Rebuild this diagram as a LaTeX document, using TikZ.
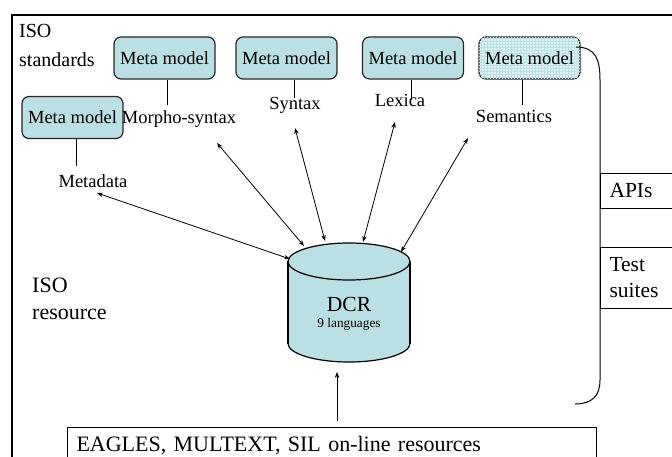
\documentclass[tikz,border=0pt]{standalone}
\usepackage{fontspec}
\setmainfont{Liberation Serif}
\usetikzlibrary{arrows.meta,patterns,calc}
\definecolor{teal1}{RGB}{187,224,227}
\definecolor{teal2}{RGB}{220,241,243}
\definecolor{grid1}{RGB}{190,225,229}
\newcommand{\fsz}[2]{\fontsize{#1bp}{#2bp}\selectfont}
\begin{document}
\begin{tikzpicture}[x=1bp,y=-1bp,
  meta/.style={draw=black!85, line width=1.2bp, rounded corners=7bp, fill=teal1,
    minimum width=101bp, minimum height=42bp, inner sep=0pt, font=\fsz{18.5}{22}},
  lbl/.style={inner sep=0pt, font=\fsz{18.5}{22}},
  conn/.style={line width=0.9bp},
  dbl/.style={line width=0.8bp, {Stealth[length=6bp,width=4.5bp]}-{Stealth[length=6bp,width=4.5bp]}},
  sidebox/.style={draw, line width=1bp, anchor=north west, text width=70bp, inner xsep=9bp,
    inner ysep=0pt, align=left, font=\fsz{21.5}{26}},
  plain/.style={anchor=base west, inner sep=0pt}
]
\useasboundingbox (0,0) rectangle (672,457);
\clip (0,0) rectangle (672,457);

% outer frame
\draw[line width=2bp] (690,15) -- (12,15) -- (12,470);

% left texts
\node[plain, font=\fsz{20}{24}] (iso1) at (19,38) {ISO};
\node[plain, font=\fsz{20}{24}] (std) at (19,67) {standards};
\node[plain, font=\fsz{22}{26}] (iso2) at (32,293) {ISO};
\node[plain, font=\fsz{22}{26}] (res) at (32,320) {resource};

% meta model boxes
\node[meta] (mm1) at (164.5,58) {Meta model};
\node[meta] (mm2) at (286.5,58) {Meta model};
\node[meta] (mm3) at (413,58) {Meta model};
\node[meta, fill=teal2, postaction={pattern=grid, pattern color=grid1}] (mm4) at (529.5,58) {Meta model};
\node[meta] (mm5) at (72.5,117.5) {Meta model};

% labels
\node[lbl] (ms) at (179,119) {Morpho-syntax};
\node[lbl] (syn) at (295,105) {Syntax};
\node[lbl] (lex) at (400,100) {Lexica};
\node[lbl] (sem) at (514,116) {Semantics};
\node[lbl] (md) at (93,181) {Metadata};

\draw[conn] ([xshift=2.5bp]mm1.south) -- ++(0,25.5);
\draw[conn] ([xshift=7.5bp]mm2.south) -- ++(0,18);
\draw[conn] ([xshift=-2bp]mm3.south) -- ++(0,20);
\draw[conn] ([xshift=-7.5bp]mm4.south) -- ++(0,25);
\draw[conn] ([xshift=3.5bp]mm5.south) -- ++(0,27);

% cylinder DCR
\fill[teal1] (288,261.5) rectangle (410,343.5);
\fill[teal1] (349,343.5) ellipse [x radius=61, y radius=18.5];
\begin{scope}
  \clip (280,343.5) rectangle (420,370);
  \draw[line width=1.2bp] (349,343.5) ellipse [x radius=61, y radius=18.5];
\end{scope}
\draw[line width=1.2bp] (288,261.5) -- (288,343.5) (410,261.5) -- (410,343.5);
\draw[line width=1.2bp, fill=teal1] (349,261.5) ellipse [x radius=61, y radius=18.5];
\node[anchor=base, inner sep=0pt, font=\fsz{21.5}{25}] (dcr) at (349,312) {DCR};
\node[anchor=base, inner sep=0pt, font=\fsz{13.3}{16}] (lang) at (349,328) {9 languages};

% arrow end points
\coordinate (amd) at (97,193);   \coordinate (cmd) at (290,259);
\coordinate (ams) at (217,143);  \coordinate (cms) at (304,246);
\coordinate (asy) at (295,128);  \coordinate (csy) at (325,241);
\coordinate (alx) at (395,122);  \coordinate (clx) at (363,242);
\coordinate (ase) at (468,138);  \coordinate (cse) at (401,252);
\coordinate (cb) at (337,372);

\draw[dbl] (amd) -- (cmd);
\draw[dbl] (ams) -- (cms);
\draw[dbl] (asy) -- (csy);
\draw[dbl] (alx) -- (clx);
\draw[dbl] (ase) -- (cse);

% bracket
\coordinate (br1) at (576,47);
\coordinate (br2) at (575,404);
\draw[line width=1bp] (br1) .. controls (596,47) and (600,60) .. (600,80) -- (600,380) .. controls (600,396) and (592,404) .. (br2);

% side boxes
\node[sidebox, minimum height=35bp] (api) at (600,173) {APIs};
\node[sidebox, minimum height=61bp] (ts) at (600,247) {Test\\suites};

% bottom box
\node[draw, line width=1bp, anchor=north west, minimum height=36bp, text width=511bp,
  inner xsep=9bp, inner ysep=0pt, align=left, font=\fsz{22}{26}] (eag) at (67,427)
  {EAGLES, MULTEXT, SIL on-line resources};
\draw[line width=0.8bp, -{Stealth[length=6bp,width=4.5bp]}] ([yshift=6bp]eag.north -| cb) -- (cb);
\end{tikzpicture}
\end{document}
